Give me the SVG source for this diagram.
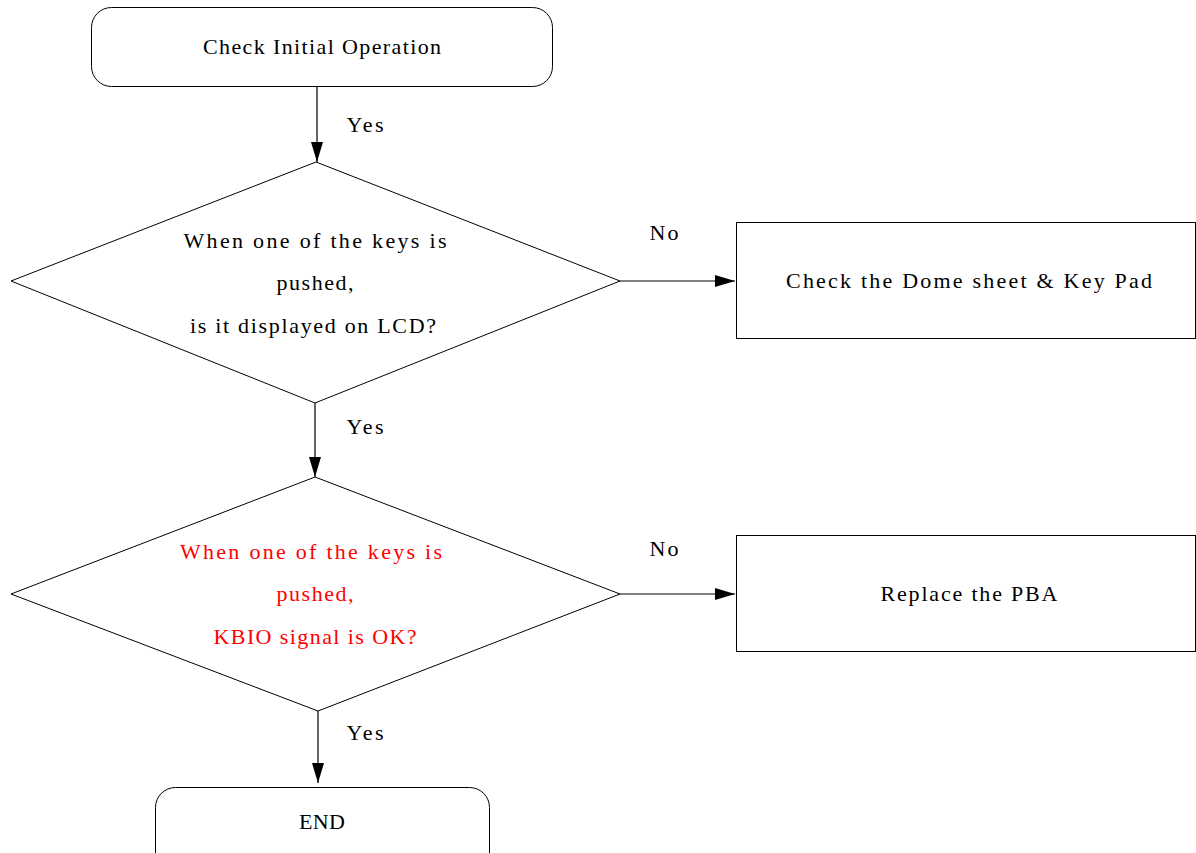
<svg xmlns="http://www.w3.org/2000/svg" width="1196" height="853" viewBox="0 0 1196 853">
<style>
.s{fill:#fff;stroke:#000;stroke-width:1}
.t{font-family:"Liberation Serif","Times New Roman",serif;font-size:22px;fill:#000;text-anchor:middle}
.r{fill:#ff0000}
.c{stroke:#000;stroke-width:1.2;fill:none}
</style>
<defs>
<marker id="a" markerUnits="userSpaceOnUse" markerWidth="20" markerHeight="12" refX="20" refY="6" orient="auto">
<path d="M0,0 L20,6 L0,12 Z" fill="#000"/>
</marker>
</defs>
<rect width="1196" height="853" fill="#fff"/>
<g id="start">
<rect class="s" x="91.5" y="7.5" width="461" height="79" rx="20"/>
<text class="t" x="322" y="54" textLength="238" lengthAdjust="spacing">Check Initial Operation</text>
</g>
<g id="d1">
<polygon class="s" points="316,162 620,281 315,403 11,281"/>
<text class="t" x="315" y="248" textLength="263" lengthAdjust="spacing">When one of the keys is</text>
<text class="t" x="315" y="290" textLength="77" lengthAdjust="spacing">pushed,</text>
<text class="t" x="313" y="333" textLength="246" lengthAdjust="spacing">is it displayed on LCD?</text>
</g>
<g id="r1">
<rect class="s" x="736.5" y="222.5" width="459" height="116"/>
<text class="t" x="969" y="288" textLength="366" lengthAdjust="spacing">Check the Dome sheet &amp; Key Pad</text>
</g>
<g id="d2">
<polygon class="s" points="315,477 620,594 318,711 11,594"/>
<text class="t r" x="311" y="559" textLength="262" lengthAdjust="spacing">When one of the keys is</text>
<text class="t r" x="315" y="601" textLength="77" lengthAdjust="spacing">pushed,</text>
<text class="t r" x="315" y="644" textLength="203" lengthAdjust="spacing">KBIO signal is OK?</text>
</g>
<g id="r2">
<rect class="s" x="736.5" y="535.5" width="459" height="116"/>
<text class="t" x="969" y="601" textLength="177" lengthAdjust="spacing">Replace the PBA</text>
</g>
<g id="end">
<rect class="s" x="155.5" y="787.5" width="334" height="90" rx="20"/>
<text class="t" x="322" y="829" textLength="46" lengthAdjust="spacing">END</text>
</g>
<g id="connectors">
<line class="c" x1="317" y1="87" x2="317" y2="162" marker-end="url(#a)"/>
<line class="c" x1="620" y1="281" x2="735" y2="281" marker-end="url(#a)"/>
<line class="c" x1="315" y1="403" x2="315" y2="477" marker-end="url(#a)"/>
<line class="c" x1="620" y1="594" x2="735" y2="594" marker-end="url(#a)"/>
<line class="c" x1="318" y1="711" x2="318" y2="783" marker-end="url(#a)"/>
<text class="t" x="365" y="132" textLength="37" lengthAdjust="spacing">Yes</text>
<text class="t" x="664" y="240" textLength="29" lengthAdjust="spacing">No</text>
<text class="t" x="365" y="434" textLength="37" lengthAdjust="spacing">Yes</text>
<text class="t" x="664" y="556" textLength="29" lengthAdjust="spacing">No</text>
<text class="t" x="365" y="740" textLength="37" lengthAdjust="spacing">Yes</text>
</g>
</svg>
